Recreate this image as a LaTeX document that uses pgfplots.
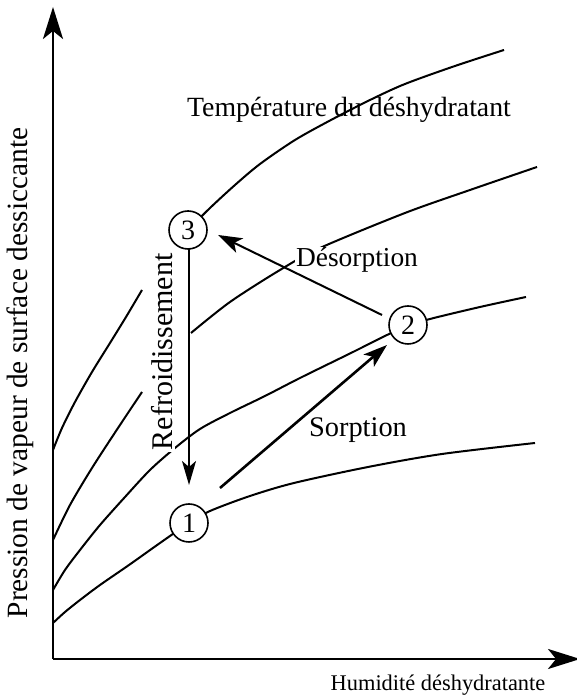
\documentclass[border=0pt]{standalone}
\usepackage{pgfplots}
\pgfplotsset{compat=1.18}
\usetikzlibrary{arrows.meta}
\usepackage{fontspec}
\setmainfont{Liberation Serif}

\begin{document}
\begin{tikzpicture}
\useasboundingbox (-26.5pt,-20.5pt) rectangle (262pt,329.5pt);
\begin{axis}[
  at={(0,0)}, anchor=south west,
  scale only axis, width=263.5pt, height=326pt,
  xmin=53, xmax=580, ymin=41, ymax=693,
  axis lines=left,
  x axis line style={line width=1.3pt, -{Stealth[length=16pt,width=10pt,inset=4pt]}},
  y axis line style={line width=1.3pt, -{Stealth[length=16pt,width=10pt,inset=4pt]}},
  xtick=\empty, ytick=\empty,
  clip=false,
]
% isotherm A (lowest)
\addplot[black, line width=1pt, smooth] coordinates {
 (53,77) (65,88) (80,100) (100,115) (129,135) (160,157) (189,177) (210,189) (250,204) (294,217) (368,233) (442,246) (535,257)};
% isotherm B
\addplot[black, line width=1pt, smooth] coordinates {
 (53,110) (65,130) (80,150) (100,175) (125,203) (150,230) (175,252) (200,271) (230,287) (265,304) (300,322) (353,348) (387,365) (408,374) (430,381) (480,393) (526,403)};
% isotherm C
\addplot[black, line width=1pt, smooth] coordinates {
 (53,160) (70,195) (92,232) (118,272) (142,308)};
\addplot[black, line width=1pt, smooth] coordinates {
 (191,367) (230,398) (280,430) (320,452) (405,487) (470,510) (537,533)};
% isotherm D (highest)
\addplot[black, line width=1pt, smooth] coordinates {
 (53,250) (62,272) (75,298) (92,328) (110,357) (126,383) (142,410)};
\addplot[black, line width=1pt, smooth] coordinates {
 (188,470) (210,492) (235,515) (260,536) (295,560) (331,580) (370,600) (405,616) (455,634) (504,650)};

% texts
\node[fill=white, inner sep=1pt, rotate=90, font=\fontsize{15}{15}\selectfont] at (axis cs:162,348) {Refroidissement};
\node[fill=white, inner sep=0.5pt, font=\fontsize{13.7}{14}\selectfont] at (axis cs:357,440) {Désorption};
\node[font=\fontsize{13.9}{14}\selectfont] at (axis cs:349,590) {Température du déshydratant};
\node[font=\fontsize{14.2}{14}\selectfont] at (axis cs:358,270) {Sorption};
\node[rotate=90, font=\fontsize{14.7}{15}\selectfont] at (axis cs:20,327) {Pression de vapeur de surface dessiccante};
\node[font=\fontsize{11.2}{12}\selectfont] at (axis cs:438,15) {Humidité déshydratante};

% process arrows
\addplot[black, line width=0.9pt, -{Stealth[length=12pt,width=7pt,inset=3pt]}] coordinates {(189,451) (189,215)};
\addplot[black, line width=1pt, -{Stealth[length=12pt,width=8pt,inset=3pt]}] coordinates {(382,385) (218,465)};
\addplot[black, line width=1.3pt, -{Stealth[length=12pt,width=8pt,inset=3pt]}] coordinates {(220,212) (387,355)};

% state points
\addplot[only marks, mark=*, mark size=9.5pt,
  mark options={fill=white, draw=black, line width=0.8pt},
  point meta=explicit symbolic, nodes near coords, nodes near coords align=center,
  every node near coord/.append style={font=\fontsize{14}{14}\selectfont, anchor=center, inner sep=0pt}]
  coordinates {(189,177) [1] (408,375) [2] (188,470) [3]};
\end{axis}
\end{tikzpicture}
\end{document}
